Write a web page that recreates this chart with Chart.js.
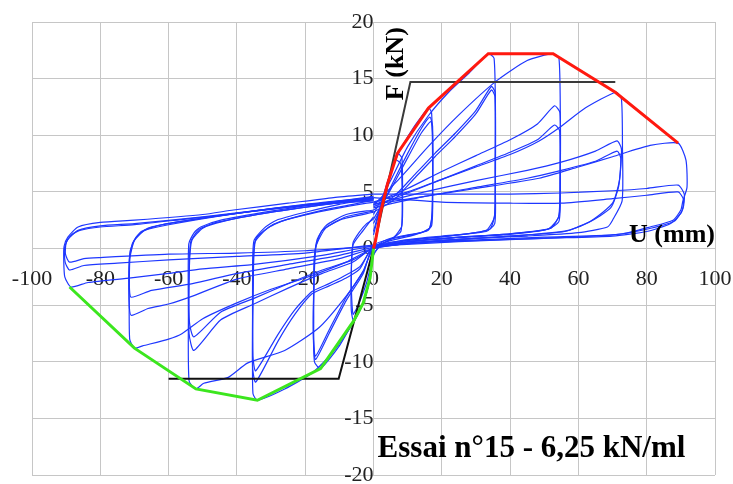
<!DOCTYPE html>
<html>
<head>
<meta charset="utf-8">
<script src="https://cdn.jsdelivr.net/npm/chart.js@4"></script>
<style>
  html, body { margin: 0; padding: 0; background: #fff; }
  #wrap { width: 733px; height: 484px; }
</style>
</head>
<body>
<div id="wrap"><canvas id="myChart" width="733" height="484"></canvas></div>
<script>
// axis ticks
const uTicks = [-100, -80, -60, -40, -20, 0, 20, 40, 60, 80, 100];
const fTicks = [-20, -15, -10, -5, 0, 5, 10, 15, 20];

// envelopes
const envPosU = [0, 0.6, 2, 4.1, 7, 16.1, 33.6, 52.6, 70.8, 89.2];
const envPosF = [0, 0.7, 3.1, 5.7, 8.4, 12.4, 17.2, 17.2, 13.8, 9.3];
const envNegU = [0, -1, -3, -5.8, -15.5, -34, -52, -70, -89];
const envNegF = [0, -2.6, -4.8, -6.4, -10.6, -13.4, -12.4, -8.8, -3.4];

// bilinear idealisation
const bilinPosU = [0, 10.8, 70.8];
const bilinPosF = [0, 14.7, 14.7];
const bilinNegU = [0, -10.2, -60];
const bilinNegF = [0, -11.5, -11.5];

// hysteresis cycles, amplitude ~7 mm
const c1aU = [0, 0.6, 2, 4.1, 7, 8.3, 8.5, 8.3, 6, 3, 0, -1, -3, -5.8, -6.5, -6.5, -6, -4, -2, 0];
const c1aF = [0, 0.9, 3.1, 5.7, 8.4, 8, 5, 2, 1, 0.5, -0.5, -2.6, -4.8, -6.4, -5.5, -2, 0.5, 1.5, 2.2, 2.6];
const c1bU = [0, 2, 4, 6.5, 8, 8.4, 8, 5, 2, 0, -2, -4.5, -6, -6.5, -6, -3, 0];
const c1bF = [1.2, 3.6, 5.8, 7.8, 7.5, 4, 1.5, 0.8, 0.3, -0.6, -3, -5, -5.8, -3, 0.3, 1.6, 2.8];

// amplitude ~17 mm
const c2aU = [0, 3, 7, 12, 16.1, 17, 17.3, 17.2, 16, 10, 4, 0, -1, -3, -5.8, -10, -15.5, -17.3, -17.5, -17.4, -16.5, -14, -8, 0];
const c2aF = [1.5, 4.8, 8.2, 10.8, 12.4, 12, 8, 3, 1.6, 1.2, 0.8, 0, -2.6, -4.8, -6.4, -8.6, -10.6, -10, -6, -1, 0.8, 2, 3, 3.4];
const c2bU = [0, 5, 10, 14, 16.5, 17.3, 17.3, 17, 14, 6, 0, -3, -8, -13, -17, -17.6, -17.5, -17, -15, -9, 0];
const c2bF = [2.2, 5.4, 8.4, 10.6, 11.6, 10.8, 5, 2, 1.4, 0.9, 0.3, -2.2, -4.6, -7.5, -9.8, -8, -3.5, 0, 1.6, 2.6, 3.2];
const c2cU = [0, 5, 10, 14, 16.8, 17.3, 17.2, 16.5, 12, 5, 0, -3, -8, -13, -17, -17.6, -17.4, -16.8, -14, -8, 0];
const c2cF = [2.6, 5.2, 8.0, 10.2, 11.2, 10, 4, 1.8, 1.2, 0.7, 0.1, -2, -4.3, -7.2, -9.5, -7.5, -3, 0.2, 1.8, 2.8, 3.3];

// amplitude ~35 mm
const c3aU = [0, 5, 10, 16, 22, 28, 33.6, 35.3, 35.7, 35.7, 35.5, 33, 20, 8, 0, -1, -3, -6, -12, -18, -26, -34, -35.3, -35.4, -35.4, -35, -32, -28.4, -20, -10, 0];
const c3aF = [3.0, 6.0, 9.0, 11.7, 13.8, 15.5, 17.2, 16.8, 12, 5, 2.2, 1.5, 1.1, 0.7, 0, -2.6, -4.8, -6.6, -9.2, -11, -12.4, -13.4, -12.8, -8, -2, 0.7, 1.8, 2.5, 3.2, 3.9, 4.4];
const c3bU = [0, 6, 12, 18, 24, 30, 34.5, 35.6, 35.7, 35.5, 34, 25, 12, 0, -4, -8, -13, -18, -23, -28, -34.5, -35.4, -35.3, -34.8, -31, -27, -18, -8, 0];
const c3bF = [3.4, 4.6, 6.5, 8.4, 10.2, 12.2, 14.3, 13.8, 8, 3, 1.7, 1.2, 0.8, 0.2, -1.8, -2.6, -3.3, -4, -5.8, -8.2, -11.8, -10.5, -4, 0.5, 1.8, 2.4, 3.1, 3.7, 4.1];
const c3cU = [0, 6, 12, 18, 24, 30, 34.5, 35.6, 35.6, 35.4, 33, 22, 10, 0, -4, -9, -13, -18, -23, -28, -34.5, -35.3, -35.2, -34.5, -30, -26, -16, -6, 0];
const c3cF = [3.2, 4.3, 6.2, 8.1, 9.9, 11.9, 14.0, 13.4, 7, 2.8, 1.6, 1.1, 0.7, 0.1, -1.6, -2.5, -3.1, -3.8, -5.4, -7.6, -10.8, -9.5, -3, 0.8, 2, 2.5, 3.3, 3.9, 4.3];

// amplitude ~54 mm
const c4aU = [0, 8, 16, 25, 36, 45, 52.6, 54.3, 54.7, 54.7, 54.3, 51, 40, 25, 10, 0, -3, -8, -16, -26, -36.8, -42.7, -49.7, -52, -54, -54.2, -54.1, -52.5, -50.6, -44.7, -30, -15, 0];
const c4aF = [3.8, 6.3, 9.0, 11.8, 14.8, 16.6, 17.2, 16.8, 12, 5, 2.4, 1.7, 1.3, 1, 0.6, 0, -2, -4.2, -7, -9, -10.1, -11.4, -11.9, -12.4, -11.7, -6, 0.4, 1.4, 1.9, 2.5, 3.3, 4, 4.6];
const c4bU = [0, 10, 20, 30, 40, 48, 53, 54.6, 54.7, 54.4, 52, 40, 25, 10, 0, -6, -15, -25, -35, -44.7, -52.6, -54, -54, -53.5, -51, -46, -32, -16, 0];
const c4bF = [4.0, 5.3, 6.8, 8.2, 9.6, 11.0, 12.6, 12, 7, 3, 1.8, 1.3, 1, 0.6, 0.1, -1.2, -2.2, -3.5, -4.9, -6.3, -9.0, -7.5, -2, 0.6, 1.7, 2.3, 3.1, 3.8, 4.4];
const c4cU = [0, 10, 20, 30, 40, 48, 53, 54.5, 54.6, 54.2, 51, 38, 22, 8, 0, -6, -15, -25, -35, -44.7, -52.6, -53.9, -53.9, -53.2, -50, -44, -30, -14, 0];
const c4cF = [3.7, 4.9, 6.1, 7.3, 8.5, 9.6, 10.9, 10.4, 6, 2.8, 1.7, 1.2, 0.9, 0.5, 0, -1, -1.9, -3.1, -4.4, -5.6, -7.8, -6.5, -1.5, 0.7, 1.8, 2.4, 3.2, 3.9, 4.4];

// amplitude ~72 mm
const c5aU = [0, 10, 20, 30, 40, 48.5, 55, 62, 71, 72.6, 72.9, 72.8, 70, 68.5, 60, 45, 30, 15, 0, -8, -20, -30, -40, -50, -56, -60, -67.6, -70, -71.4, -71.5, -71.3, -70, -67, -60, -40, -20, 0];
const c5aF = [4.1, 5.0, 6.1, 7.2, 8.3, 9.5, 10.8, 12.4, 13.8, 13.2, 9, 4.2, 2.5, 1.9, 1.4, 1.1, 0.9, 0.6, 0, -1.2, -2.6, -3.6, -4.8, -6.2, -7.5, -8.0, -8.6, -8.8, -8.0, -3, -0.8, 0.7, 1.6, 2.1, 3.1, 3.9, 4.5];
const c5bU = [0, 15, 30, 45, 54.7, 65, 71.3, 72.6, 72, 70, 64, 57, 45, 30, 15, 0, -10, -25, -40, -53, -60, -66, -71, -71.6, -71.5, -70.5, -68, -62, -45, -25, 0];
const c5bF = [3.9, 5.0, 6.0, 6.9, 7.6, 8.6, 9.5, 8.8, 6, 4, 2.5, 1.6, 1.2, 0.9, 0.6, 0, -0.9, -1.8, -2.7, -4.2, -4.9, -5.3, -5.9, -4.5, -1, 0.5, 1.5, 2.1, 2.9, 3.7, 4.4];
const c5cU = [0, 15, 30, 45, 55, 65, 71.3, 72.4, 71.8, 69.5, 63, 56, 40, 20, 0, -10, -25, -40, -53, -65, -71, -71.5, -71.3, -69.5, -66, -58, -40, -20, 0];
const c5cF = [3.6, 4.6, 5.4, 6.2, 6.9, 7.7, 8.6, 8, 5.5, 3.6, 2.3, 1.5, 1.1, 0.7, 0.1, -0.6, -1.4, -2.2, -3.1, -3.7, -4.3, -3, -0.3, 1, 1.8, 2.3, 3.1, 3.8, 4.3];

// amplitude ~90 mm
const c6aU = [0, 15, 30, 48.5, 60, 70, 81, 89.2, 91.5, 91.8, 90.6, 90, 87.7, 81, 73, 58.5, 40, 20, 0, -15, -35, -50, -60, -71, -83.6, -88.6, -90.4, -90.7, -90.6, -89.5, -86.5, -80, -70, -50, -41, -25, -11.7, 0];
const c6aF = [3.9, 4.6, 5.3, 6.2, 7.2, 8.1, 9.1, 9.3, 7.8, 5.4, 4.2, 3.4, 2.5, 1.9, 1.3, 1.0, 0.8, 0.6, 0.2, -0.6, -1.4, -1.8, -2.2, -2.6, -3.0, -3.4, -2.5, -1, 0.2, 1.0, 1.9, 2.3, 2.5, 3.0, 3.4, 4.0, 4.5, 4.8];
const c6bU = [0, 20, 40, 55, 70, 80, 89.2, 91, 90.6, 88, 80, 70, 50, 25, 0, -20, -40, -60, -75, -84.8, -89, -90.3, -90.5, -89.5, -86.5, -80, -70, -50, -30, -12, 0];
const c6bF = [4.8, 4.8, 4.8, 4.9, 5.1, 5.3, 5.6, 4.8, 3.5, 2.4, 1.7, 1.2, 1.0, 0.7, 0.3, -0.4, -0.7, -1.0, -1.3, -1.5, -1.9, -1.2, 0, 0.8, 1.6, 2.0, 2.2, 2.8, 3.5, 4.1, 4.5];
const c6cU = [0, 20, 40, 55, 70, 80, 89.2, 90.8, 90.2, 87, 80, 70, 50, 25, 0, -20, -40, -60, -80, -84.8, -89, -90.2, -90, -88.5, -86, -80, -70, -55, -40, -20, 0];
const c6cF = [4.5, 4.1, 4.0, 4.0, 4.4, 4.7, 5.0, 4.3, 3.2, 2.2, 1.5, 1.1, 0.9, 0.6, 0.2, -0.2, -0.4, -0.5, -0.8, -0.9, -1.2, -0.5, 0.5, 1.2, 1.6, 1.9, 2.1, 2.6, 3.1, 3.8, 4.2];

const cycles = [
  [c1aU, c1aF], [c1bU, c1bF],
  [c2aU, c2aF], [c2bU, c2bF], [c2cU, c2cF],
  [c3aU, c3aF], [c3bU, c3bF], [c3cU, c3cF],
  [c4aU, c4aF], [c4bU, c4bF], [c4cU, c4cF],
  [c5aU, c5aF], [c5bU, c5bF], [c5cU, c5cF],
  [c6aU, c6aF], [c6bU, c6bF], [c6cU, c6cF]
];

function pts(u, f) {
  return u.map((v, i) => ({ x: v, y: f[i] }));
}

const serif = '"Liberation Serif", "Times New Roman", serif';

// axis names and test title, drawn over the curves
const textPlugin = {
  id: 'texts',
  afterDatasetsDraw(chart) {
    const ctx = chart.ctx;
    const x = chart.scales.x;
    const y = chart.scales.y;
    ctx.save();
    ctx.fillStyle = '#000';
    ctx.textBaseline = 'alphabetic';

    ctx.font = 'bold 26px ' + serif;
    ctx.textAlign = 'right';
    ctx.fillText('U (mm)', x.getPixelForValue(100), y.getPixelForValue(0.55));

    ctx.save();
    ctx.translate(x.getPixelForValue(8.5), y.getPixelForValue(13.1));
    ctx.rotate(-Math.PI / 2);
    ctx.textAlign = 'left';
    ctx.fillText('F (kN)', 0, 0);
    ctx.restore();

    ctx.font = 'bold 31px ' + serif;
    ctx.textAlign = 'left';
    ctx.fillText('Essai n°15 - 6,25 kN/ml', x.getPixelForValue(1.2), y.getPixelForValue(-18.45));
    ctx.restore();
  }
};

const datasets = [
  { data: pts(envPosU, envPosF), borderColor: 'rgb(255,25,15)', borderWidth: 3 },
  { data: pts(envNegU, envNegF), borderColor: 'rgb(60,230,30)', borderWidth: 3 },
  { data: pts(bilinPosU, bilinPosF), borderColor: '#3a3a3a', borderWidth: 2 },
  { data: pts(bilinNegU, bilinNegF), borderColor: '#111', borderWidth: 2 }
];
cycles.forEach(c => {
  datasets.push({ data: pts(c[0], c[1]), borderColor: 'rgb(30,55,255)', borderWidth: 1.2, tension: 0.2 });
});
datasets.forEach(d => {
  d.showLine = true;
  d.pointRadius = 0;
  d.fill = false;
  if (d.tension === undefined) d.tension = 0;
});

const gridColor = '#c6c6c6';

// axes sit on the chart area, so they should not push it inwards
function noPadding(axis) {
  axis.paddingLeft = 0;
  axis.paddingRight = 0;
  axis.paddingTop = 0;
  axis.paddingBottom = 0;
}

new Chart(document.getElementById('myChart').getContext('2d'), {
  type: 'scatter',
  data: { datasets: datasets },
  options: {
    responsive: false,
    animation: false,
    devicePixelRatio: 1,
    layout: { padding: { left: 32, right: 18, top: 22, bottom: 9 } },
    plugins: { legend: { display: false }, tooltip: { enabled: false } },
    scales: {
      x: {
        type: 'linear',
        min: -100,
        max: 100,
        position: { y: 0 },
        afterBuildTicks: axis => { axis.ticks = uTicks.map(v => ({ value: v })); },
        afterFit: noPadding,
        ticks: { padding: 18, color: '#222', font: { family: serif, size: 22 } },
        grid: { color: gridColor, drawTicks: false },
        border: { color: gridColor }
      },
      y: {
        type: 'linear',
        min: -20,
        max: 20,
        position: { x: 0 },
        afterBuildTicks: axis => { axis.ticks = fTicks.map(v => ({ value: v })); },
        afterFit: noPadding,
        ticks: { padding: 20, color: '#222', font: { family: serif, size: 22 } },
        grid: { color: gridColor, drawTicks: false },
        border: { color: gridColor }
      }
    }
  },
  plugins: [textPlugin]
});
</script>
</body>
</html>
